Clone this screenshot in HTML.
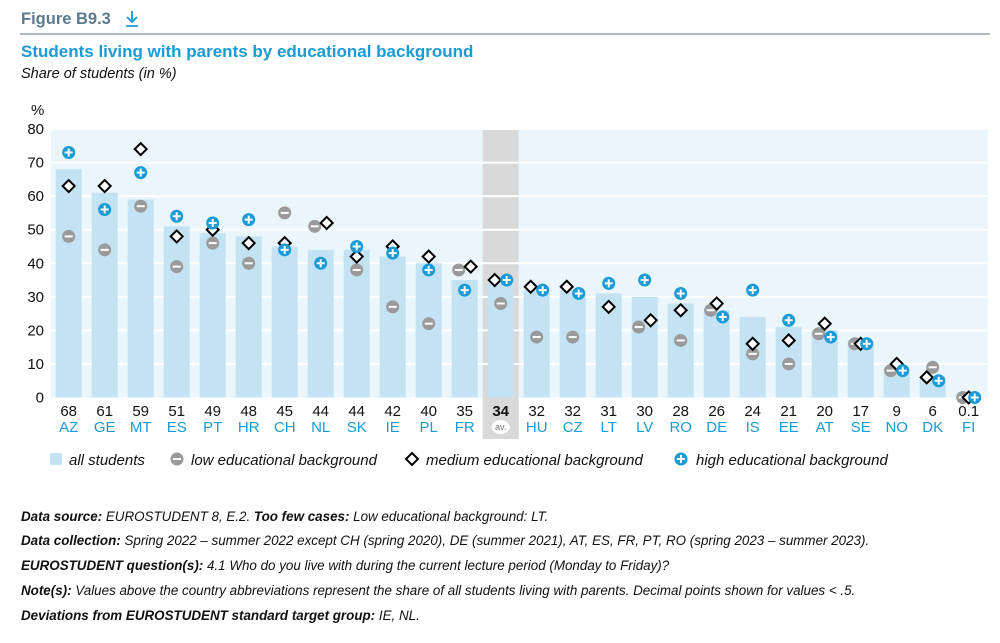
<!DOCTYPE html>
<html><head><meta charset="utf-8"><style>
body{margin:0;background:#fff;width:1000px;height:638px;overflow:hidden;font-family:"Liberation Sans",sans-serif}
svg text{font-family:"Liberation Sans",sans-serif}
</style></head><body>
<svg id="chart" width="1000" height="638" viewBox="0 0 1000 638" xmlns="http://www.w3.org/2000/svg">
<text x="21" y="24" font-size="16.5" font-weight="bold" fill="#5b7a8e">Figure B9.3</text>
<g stroke="#1a9ad6" stroke-width="1.8" fill="none"><path d="M132 11 V22 M127 17 L132 22 L137 17 M126 26 H138"/></g>
<line x1="20" y1="34" x2="990" y2="34" stroke="#7d8d98" stroke-width="1.2"/>
<text x="21" y="57" font-size="17" font-weight="bold" fill="#1a9ad6">Students living with parents by educational background</text>
<text x="21" y="78" font-size="14.5" font-style="italic" fill="#111">Share of students (in %)</text>
<text x="31" y="115" font-size="15" fill="#111">%</text>
<g id="plot"></g>
<g font-size="15" font-style="italic" fill="#111">
<rect x="50" y="453" width="12" height="12" fill="#c3e3f4"/>
<text x="69" y="465">all students</text>
<circle cx="177" cy="459" r="6.5" fill="#9a9a9a"/><rect x="173" y="458" width="8" height="2" fill="#fff"/>
<text x="191" y="465">low educational background</text>
<path d="M412 453 L418 459 L412 465 L406 459 Z" fill="#fff" stroke="#000" stroke-width="2"/>
<text x="426" y="465">medium educational background</text>
<circle cx="681" cy="459" r="6.5" fill="#1a9ad6"/><path d="M677 459 H685 M681 455 V463" stroke="#fff" stroke-width="2"/>
<text x="696" y="465">high educational background</text>
</g>
<g font-size="13.4" font-style="italic" fill="#111">
<text x="21" y="521"><tspan font-weight="bold">Data source:</tspan> EUROSTUDENT 8, E.2. <tspan font-weight="bold">Too few cases:</tspan> Low educational background: LT.</text>
<text x="21" y="545"><tspan font-weight="bold">Data collection:</tspan> Spring 2022 – summer 2022 except CH (spring 2020), DE (summer 2021), AT, ES, FR, PT, RO (spring 2023 – summer 2023).</text>
<text x="21" y="570"><tspan font-weight="bold">EUROSTUDENT question(s):</tspan> 4.1 Who do you live with during the current lecture period (Monday to Friday)?</text>
<text x="21" y="595"><tspan font-weight="bold">Note(s):</tspan> Values above the country abbreviations represent the share of all students living with parents. Decimal points shown for values &lt; .5.</text>
<text x="21" y="620"><tspan font-weight="bold">Deviations from EUROSTUDENT standard target group:</tspan> IE, NL.</text>
</g>
</svg>
<script>
const categories=["AZ","GE","MT","ES","PT","HR","CH","NL","SK","IE","PL","FR","av.","HU","CZ","LT","LV","RO","DE","IS","EE","AT","SE","NO","DK","FI"];
const allLabels=["68","61","59","51","49","48","45","44","44","42","40","35","34","32","32","31","30","28","26","24","21","20","17","9","6","0.1"];
const allValues=[68,61,59,51,49,48,45,44,44,42,40,35,34,32,32,31,30,28,26,24,21,20,17,9,6,0.1];
const lowValues=[48,44,57,39,46,40,55,51,38,27,22,38,28,18,18,null,21,17,26,13,10,19,16,8,9,0];
const medValues=[63,63,74,48,50,46,46,52,42,45,42,39,35,33,33,27,23,26,28,16,17,22,16,10,6,0];
const highValues=[73,56,67,54,52,53,44,40,45,43,38,32,35,32,31,34,35,31,24,32,23,18,16,8,5,0];
const yTicks=[0,10,20,30,40,50,60,70,80];
const lowShift=[0,0,0,0,0,0,0,-1,0,0,0,-1,0,0,0,0,-1,0,-1,0,0,-1,-1,-1,0,-1];
const medShift=[0,0,0,0,0,0,0,1,0,0,0,1,-1,-1,-1,0,1,0,0,0,0,0,0,0,-1,0];
const highShift=[0,0,0,0,0,0,0,0,0,0,0,0,1,1,1,0,0,0,1,0,0,1,1,1,1,1];

const NS="http://www.w3.org/2000/svg";
const plot=document.getElementById('plot');
const x0=50.7,step=36,yBase=397.5,yTop=129,yMax=80;
const xC=i=>x0+step*i+step/2;
const yS=v=>yBase-(v/yMax)*(yBase-yTop);
function mk(tag,attrs,parent){const e=document.createElementNS(NS,tag);for(const k in attrs)e.setAttribute(k,attrs[k]);(parent||plot).appendChild(e);return e;}

const bg=mk('rect',{x:x0,y:yTop,width:step*categories.length+1,height:yBase-yTop,fill:'#eaf5fc'});


const avI=categories.indexOf('av.');
const band=mk('rect',{x:x0+step*avI,y:yTop,width:step,height:439-yTop,fill:'#d9d9d9'});


yTicks.forEach(t=>{
  if(t>0){const g=mk('line',{x1:x0,x2:x0+step*categories.length+1,y1:yS(t),y2:yS(t),stroke:'#fff','stroke-width':2});
  
  }
  const l=mk('text',{x:44,y:yS(t)+5,'text-anchor':'end','font-size':15,fill:'#111'});l.textContent=t;
  
  
});
categories.forEach((c,i)=>{
  const cx=xC(i);
  const b=mk('rect',{x:cx-13,y:yS(allValues[i]),width:26,height:yBase-yS(allValues[i]),fill:'#c3e3f4'});
  
  
  const v=mk('text',{x:cx,y:416,'text-anchor':'middle','font-size':15,fill:'#111','font-weight':i===avI?'bold':'normal'});v.textContent=allLabels[i];
  
  
  if(i===avI){
    const ci=mk('ellipse',{cx:cx,cy:427,rx:9,ry:7,fill:'#fff'});
    
    
    const t=mk('text',{x:cx,y:430,'text-anchor':'middle','font-size':9,fill:'#777'});t.textContent='av.';
    
    
  } else {
    const t=mk('text',{x:cx,y:432,'text-anchor':'middle','font-size':15,fill:'#1a9ad6'});t.textContent=c;
    
    
  }
});
categories.forEach((c,i)=>{
  const cx=xC(i);
  if(lowValues[i]!==null){
    const x=cx+lowShift[i]*6,y=yS(lowValues[i]);
    const g=mk('g',{});
    
    
    mk('circle',{cx:x,cy:y,r:6.5,fill:'#9a9a9a'},g);
    mk('rect',{x:x-4,y:y-1,width:8,height:2,fill:'#fff'},g);
  }
  {
    const x=cx+medShift[i]*6,y=yS(medValues[i]);
    const p=mk('path',{d:`M${x} ${y-6} L${x+6} ${y} L${x} ${y+6} L${x-6} ${y} Z`,fill:'#fff',stroke:'#000','stroke-width':2});
    
    
  }
  {
    const x=cx+highShift[i]*6,y=yS(highValues[i]);
    const g=mk('g',{});
    
    
    mk('circle',{cx:x,cy:y,r:6.5,fill:'#1a9ad6'},g);
    mk('path',{d:`M${x-4} ${y} H${x+4} M${x} ${y-4} V${y+4}`,stroke:'#fff','stroke-width':2},g);
  }
});
</script>
</body></html>
